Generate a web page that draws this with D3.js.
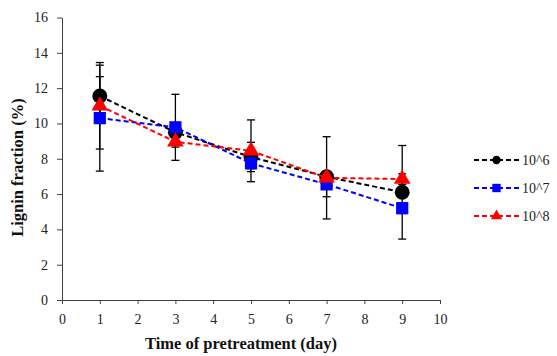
<!DOCTYPE html>
<html>
<head>
<meta charset="utf-8">
<script src="https://cdn.jsdelivr.net/npm/d3@7"></script>
<style>
  html, body { margin: 0; padding: 0; background: #fff; }
  svg { display: block; }
  text { font-family: "Liberation Serif", "Times New Roman", serif; }
</style>
</head>
<body>
<svg id="chart" width="557" height="356"></svg>
<script>
// Pretreatment time (days)
const days = [1, 3, 5, 7, 9];
const seriesNames = ["10^6", "10^7", "10^8"];
// Lignin fraction (%) per inoculum level
const lignin6 = [11.55, 9.5, 8.1, 6.98, 6.1];
const lignin7 = [10.3, 9.78, 7.74, 6.55, 5.2];
const lignin8 = [11.0, 8.96, 8.45, 6.92, 6.85];
// Standard deviations
const err6 = [1.1, 0.3, 0.83, 0.3, 2.65];
const err7 = [3.0, 1.87, 0.3, 0.7, 0.3];
const err8 = [2.45, 0.3, 1.75, 2.33, 0.3];
const xTicks = [0, 1, 2, 3, 4, 5, 6, 7, 8, 9, 10];
const yTicks = [0, 2, 4, 6, 8, 10, 12, 14, 16];

const colors = ["#000000", "#0000ff", "#ff0000"];
const shapes = [d3.symbolCircle, d3.symbolSquare, d3.symbolTriangle];
const sizes = [175, 150, 120];
const legendSizes = [55, 70, 55];

const svg = d3.select("#chart");
const x = d3.scaleLinear().domain([0, 10]).range([62, 440]);
const y = d3.scaleLinear().domain([0, 16]).range([300, 17.5]);
const fontStack = '"Liberation Serif", "Times New Roman", serif';

// Axes
const xAxis = svg.append("g").attr("transform", `translate(0,${y(0)})`)
  .call(d3.axisBottom(x).tickValues(xTicks).tickSize(4).tickSizeOuter(0).tickPadding(10));
const yAxis = svg.append("g").attr("transform", `translate(${x(0)},0)`)
  .call(d3.axisLeft(y).tickValues(yTicks).tickSize(5).tickSizeOuter(0).tickPadding(9));
[xAxis, yAxis].forEach(g => {
  g.attr("font-family", fontStack);
  g.selectAll("path, line").attr("stroke", "#404040").attr("stroke-width", 1);
  g.selectAll("text").attr("font-size", 14).attr("fill", "#222")
    .style("font-family", fontStack);
});

// Axis titles
svg.append("text").attr("x", 241).attr("y", 349).attr("text-anchor", "middle")
  .attr("font-size", 16.5).attr("font-weight", "bold").attr("fill", "#111")
  .text("Time of pretreatment (day)");
svg.append("text").attr("transform", `translate(23,${y(7.5)}) rotate(-90)`)
  .attr("text-anchor", "middle").attr("font-size", 16.5).attr("font-weight", "bold").attr("fill", "#111")
  .text("Lignin fraction (%)");

const allSeries = [
  { vals: lignin6, errs: err6 },
  { vals: lignin7, errs: err7 },
  { vals: lignin8, errs: err8 }
];

const line = d3.line().x(d => x(d[0])).y(d => y(d[1]));

// Error bars
allSeries.forEach(s => {
  const g = svg.append("g").attr("stroke", "#000").attr("stroke-width", 1.3);
  days.forEach((d, i) => {
    const cx = x(d), hi = y(s.vals[i] + s.errs[i]), lo = y(s.vals[i] - s.errs[i]);
    g.append("line").attr("x1", cx).attr("x2", cx).attr("y1", hi).attr("y2", lo);
    g.append("line").attr("x1", cx - 4).attr("x2", cx + 4).attr("y1", hi).attr("y2", hi);
    g.append("line").attr("x1", cx - 4).attr("x2", cx + 4).attr("y1", lo).attr("y2", lo);
  });
});

// Dashed lines and markers
allSeries.forEach((s, k) => {
  const pts = days.map((d, i) => [d, s.vals[i]]);
  svg.append("path").datum(pts).attr("d", line).attr("fill", "none")
    .attr("stroke", colors[k]).attr("stroke-width", 2).attr("stroke-dasharray", "5,3");
  svg.append("g").selectAll("path").data(pts).join("path")
    .attr("transform", p => `translate(${x(p[0])},${y(p[1])})`)
    .attr("d", d3.symbol().type(shapes[k]).size(sizes[k]))
    .attr("fill", colors[k]);
});

// Legend
const legend = svg.append("g");
seriesNames.forEach((name, k) => {
  const ly = 160 + k * 28;
  legend.append("line").attr("x1", 474).attr("x2", 519).attr("y1", ly).attr("y2", ly)
    .attr("stroke", colors[k]).attr("stroke-width", 2).attr("stroke-dasharray", "5,3");
  legend.append("path").attr("transform", `translate(496.5,${ly})`)
    .attr("d", d3.symbol().type(shapes[k]).size(legendSizes[k])).attr("fill", colors[k]);
  legend.append("text").attr("x", 522).attr("y", ly + 5).attr("font-size", 14)
    .attr("fill", "#222").text(name);
});
</script>
</body>
</html>
